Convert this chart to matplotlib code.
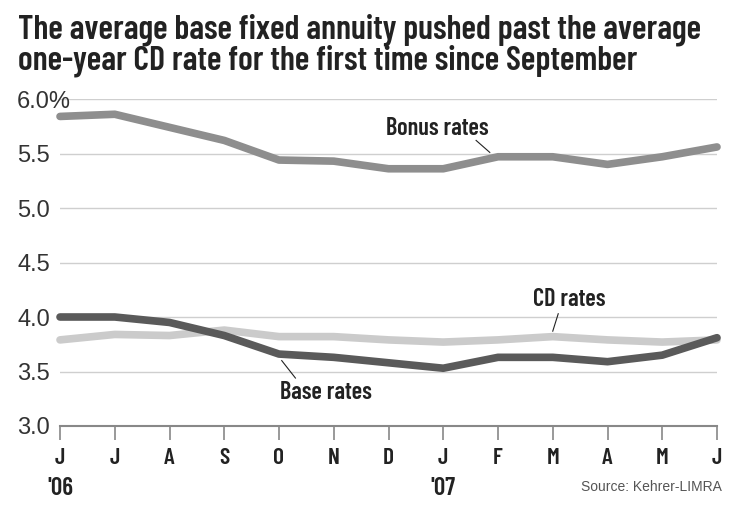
import matplotlib
matplotlib.use('Agg')
import matplotlib.pyplot as plt

months = ['J', 'J', 'A', 'S', 'O', 'N', 'D', 'J', 'F', 'M', 'A', 'M', 'J']
bonus = [5.84, 5.86, 5.74, 5.62, 5.44, 5.43, 5.36, 5.36, 5.47, 5.47, 5.40, 5.47, 5.56]
cd = [3.79, 3.84, 3.83, 3.88, 3.82, 3.82, 3.79, 3.77, 3.79, 3.82, 3.79, 3.77, 3.79]
base = [4.00, 4.00, 3.95, 3.83, 3.66, 3.63, 3.58, 3.53, 3.63, 3.63, 3.59, 3.65, 3.81]
yticks = [3.0, 3.5, 4.0, 4.5, 5.0, 5.5, 6.0]
ylabels = ['3.0', '3.5', '4.0', '4.5', '5.0', '5.5', '6.0%']

cond = ['Barlow Condensed', 'DejaVu Sans']
plain = ['Liberation Sans', 'DejaVu Sans']
x = list(range(len(months)))

fig = plt.figure(figsize=(7.4, 5.11), dpi=100)
ax = fig.add_axes([60/740, 1 - 426/511, 657/740, 327/511])

for y in yticks[1:]:
    ax.axhline(y, color='#cfcfcf', lw=1.0, zorder=0)

ax.plot(x, cd, color='#cbcbcb', lw=5.5, solid_capstyle='round', solid_joinstyle='round', clip_on=False, zorder=2)
ax.plot(x, base, color='#5a5a5a', lw=5.5, solid_capstyle='round', solid_joinstyle='round', clip_on=False, zorder=3)
ax.plot(x, bonus, color='#8e8e8e', lw=5.5, solid_capstyle='round', solid_joinstyle='round', clip_on=False, zorder=3)

ax.set_xlim(0, 12)
ax.set_ylim(3.0, 6.0)
for s in ['top', 'right', 'left']:
    ax.spines[s].set_visible(False)
ax.spines['bottom'].set_color('#888888')
ax.spines['bottom'].set_linewidth(1.5)

ax.set_xticks(x)
ax.set_xticklabels(months, fontfamily=cond, fontweight=600, fontsize=17, color='#222222')
ax.tick_params(axis='x', direction='out', length=10, width=1.2, color='#888888', pad=6)
ax.set_yticks(yticks)
ax.set_yticklabels(ylabels, fontfamily=plain, fontsize=17, color='#333333')
ax.tick_params(axis='y', length=0, pad=0)
for lab in ax.get_yticklabels():
    lab.set_horizontalalignment('left')
    lab.set_x(-60/657 + 17/657)

for pos, yr in [(0, "'06"), (7, "'07")]:
    ax.text(pos, -0.19, yr, transform=ax.get_xaxis_transform(), ha='center', va='center',
            fontfamily=cond, fontweight=600, fontsize=18, color='#222222')

# labels with leader lines
ax.text(6.9, 5.73, 'Bonus rates', ha='center', va='center', fontfamily=cond,
        fontweight=600, fontsize=17.5, color='#222222')
ax.plot([7.6, 7.85], [5.62, 5.51], color='#222222', lw=0.8)
ax.text(9.3, 4.16, 'CD rates', ha='center', va='center', fontfamily=cond,
        fontweight=600, fontsize=17.5, color='#222222')
ax.plot([9.1, 9.0], [4.03, 3.87], color='#222222', lw=0.8)
ax.text(4.85, 3.31, 'Base rates', ha='center', va='center', fontfamily=cond,
        fontweight=600, fontsize=17.5, color='#222222')
ax.plot([4.05, 4.3], [3.6, 3.44], color='#222222', lw=0.8)

fig.text(18/740, 1 - 30/511, 'The average base fixed annuity pushed past the average',
         ha='left', va='center', fontfamily=cond, fontweight=600, fontsize=24.5, color='#222222')
fig.text(18/740, 1 - 61/511, 'one-year CD rate for the first time since September',
         ha='left', va='center', fontfamily=cond, fontweight=600, fontsize=24.5, color='#222222')
fig.text(722/740, 1 - 487/511, 'Source: Kehrer-LIMRA', ha='right', va='center',
         fontfamily=plain, fontsize=10, color='#555555')

fig.savefig('out.png', dpi=100)
